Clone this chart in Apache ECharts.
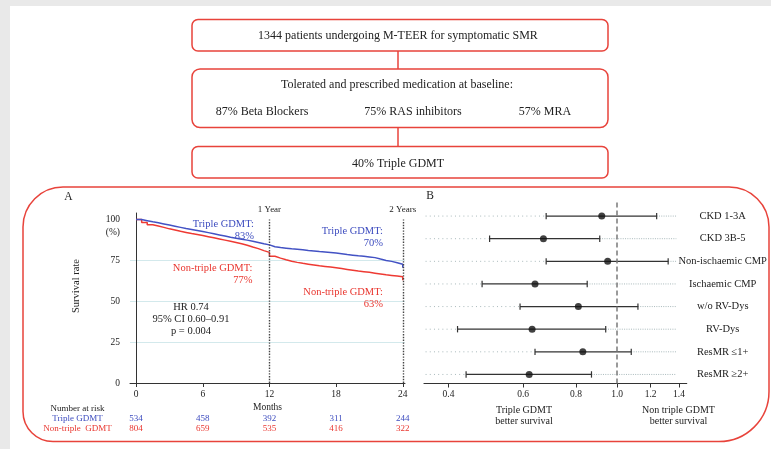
<!DOCTYPE html>
<html><head><meta charset="utf-8">
<script src="https://cdn.jsdelivr.net/npm/echarts@6/dist/echarts.min.js"></script>
<style>html,body{margin:0;padding:0;background:#fff}#c{width:771px;height:449px}</style>
</head><body><div id="c"></div>
<script>
// ---------- Panel A: Kaplan-Meier data ----------
const kmMonths = [0,0.5,1,1.5,2,2.5,3,3.5,4,4.5,5,5.5,6,6.5,7,7.5,8,8.5,9,9.5,10,10.5,11,11.5,12,12.5,13,13.5,14,14.5,15,15.5,16,16.5,17,17.5,18,18.5,19,19.5,20,20.5,21,21.5,22,22.5,23,23.5,24,24];
const survTriple = [100,99.3,98.6,98.0,97.3,96.6,95.9,95.2,94.5,93.9,93.3,92.7,92.0,91.3,90.6,89.9,89.2,88.6,88.0,87.4,86.7,86.0,85.2,84.5,83.4,82.9,82.5,82.1,81.8,81.5,81.1,80.8,80.4,80.1,79.8,79.5,79.1,78.6,78.2,77.8,77.5,77.1,76.7,75.8,75.0,74.4,73.6,72.6,71.3,70.5];
const survNonTriple = [100,98.2,96.8,96.0,95.2,94.3,93.6,92.8,92.1,91.4,90.8,90.2,89.5,88.8,88.1,87.4,86.7,86.0,85.2,84.3,83.2,82.2,81.0,79.9,77.5,76.4,75.4,74.5,73.8,73.2,72.7,72.2,71.7,71.3,70.9,70.5,70.0,69.5,69.0,68.5,68.1,67.7,67.2,66.7,66.2,65.8,65.4,65.0,64.4,62.9];
const monthTicks = [0,6,12,18,24];
const survTicks = [0,25,50,75,100];
const riskTriple = [534,458,392,311,244];
const riskNonTriple = [804,659,535,416,322];
const yearMarks = [12,24];
const yearLabels = ['1 Year','2 Years'];

// ---------- Panel B: forest plot data ----------
const subgroups = ['CKD 1-3A','CKD 3B-5','Non-ischaemic CMP','Ischaemic CMP','w/o RV-Dys','RV-Dys','ResMR \u22641+','ResMR \u22652+'];
const hrValues = [0.92,0.67,0.95,0.64,0.81,0.63,0.83,0.62];
const ciLow   = [0.68,0.50,0.68,0.48,0.59,0.42,0.64,0.44];
const ciHigh  = [1.24,0.91,1.32,0.85,1.12,0.94,1.08,0.87];
const hrTicks = [0.4,0.6,0.8,1.0,1.2,1.4];
const hrRef = 1.0;
const guideRange = [0.353,1.38];

// ---------- Flowchart text ----------
const flowTop = '1344 patients undergoing M-TEER for symptomatic SMR';
const flowMid = 'Tolerated and prescribed medication at baseline:';
const flowMeds = ['87% Beta Blockers','75% RAS inhibitors','57% MRA'];
const flowBottom = '40% Triple GDMT';

const FONT = '"Liberation Serif", "Times New Roman", serif';
const RED = '#e8433b';
const BLUE_LINE = '#4352c4';
const RED_LINE = '#ee3a33';
const BLUE_TXT = '#3d4cbf';
const RED_TXT = '#e9362f';
const INK = '#222';

const chart = echarts.init(document.getElementById('c'), null, {renderer:'canvas'});

function txt(text, x, y, opt) {
  opt = opt || {};
  return {
    type:'text', x:x, y:y, rotation: opt.rotation || 0, z: 10,
    style: {
      text: text, x:0, y:0,
      fill: opt.fill || INK,
      font: (opt.size || 11) + 'px ' + FONT,
      fontSize: opt.size || 11, fontFamily: FONT,
      align: opt.align || 'center', textAlign: opt.align || 'center',
      verticalAlign: 'middle', textVerticalAlign: 'middle',
      lineHeight: opt.lh || 12
    }
  };
}
function box(x, y, w, h, r) {
  return { type:'rect', shape:{x:x,y:y,width:w,height:h,r:r}, z:5,
    style:{ fill:'none', stroke:RED, lineWidth:1.5 } };
}
function vline(x, y1, y2) {
  return { type:'line', shape:{x1:x,y1:y1,x2:x,y2:y2}, z:5, style:{stroke:RED, lineWidth:1.5} };
}

const graphics = [
  {type:'rect', shape:{x:0,y:0,width:771,height:6}, style:{fill:'#e9e9e9'}, z:1},
  {type:'rect', shape:{x:0,y:0,width:10,height:449}, style:{fill:'#e9e9e9'}, z:1},
  box(192, 19.5, 416, 31.5, 6),
  vline(398, 51, 69),
  box(192, 69, 416, 58.5, 8),
  vline(398, 127.5, 146.5),
  box(192, 146.5, 416, 31.5, 6),
  box(23, 187, 746, 254.5, [40,40,50,30]),
  txt(flowTop, 398, 35.5, {size:12}),
  txt(flowMid, 397, 85, {size:12}),
  txt(flowMeds[0], 262, 111.7, {size:12}),
  txt(flowMeds[1], 413, 111.7, {size:12}),
  txt(flowMeds[2], 545, 111.7, {size:12}),
  txt(flowBottom, 398, 163.5, {size:12}),
  txt('A', 68.5, 196.5, {size:11.5}),
  txt('B', 430, 196, {size:11.5}),
  txt('Survival rate', 76, 286, {size:10.5, rotation: Math.PI/2}),
  txt('(%)', 120, 232, {size:9.5, align:'right'}),
  txt('Triple GDMT:\n83%', 254, 230.2, {size:10.5, align:'right', fill:BLUE_TXT}),
  txt('Triple GDMT:\n70%', 383, 237, {size:10.5, align:'right', fill:BLUE_TXT}),
  txt('Non-triple GDMT:\n77%', 252.5, 274.2, {size:10.5, align:'right', fill:RED_TXT}),
  txt('Non-triple GDMT:\n63%', 383, 298, {size:10.5, align:'right', fill:RED_TXT}),
  txt('HR 0.74\n95% CI 0.60\u20130.91\np = 0.004', 191, 319, {size:10.5}),
  txt('Number at risk', 77.5, 408.3, {size:9}),
  txt('Triple GDMT', 77.5, 418.7, {size:9, fill:BLUE_TXT}),
  txt('Non-triple  GDMT', 77.5, 428.3, {size:9, fill:RED_TXT}),
  txt('Triple GDMT\nbetter survival', 524, 415.5, {size:10, lh:11}),
  txt('Non triple GDMT\nbetter survival', 678.5, 415.5, {size:10, lh:11})
];

const axisLabelBase = {fontFamily: FONT, color: INK, fontSize: 9.5};
const xMinA = -0.55, xMaxA = 24.2;

function riskAxis(values, color, offset) {
  return {
    type:'value', gridIndex:0, position:'bottom', offset: offset,
    min:xMinA, max:xMaxA,
    axisLine:{show:false}, axisTick:{show:false}, splitLine:{show:false},
    axisLabel:{ show:true, customValues: monthTicks, margin:2, fontFamily:FONT, fontSize:9, color: color,
      formatter: function(v){ const i = monthTicks.indexOf(Math.round(v)); return i >= 0 ? String(values[i]) : ''; } }
  };
}

const option = {
  animation: false,
  backgroundColor: '#fff',
  textStyle: {fontFamily: FONT},
  graphic: graphics,
  grid: [
    {left:130, top:213, width:275, height:170, outerBoundsMode:'none', containLabel:false},
    {left:424, top:202.5, width:262.7, height:181, outerBoundsMode:'none', containLabel:false}
  ],
  xAxis: [
    { type:'value', gridIndex:0, min:xMinA, max:xMaxA,
      name:'Months', nameLocation:'middle', nameGap:19,
      nameTextStyle:{fontFamily:FONT, fontSize:9.5, color:INK},
      axisLine:{show:true, lineStyle:{color:'#333', width:1}},
      axisTick:{show:true, customValues: monthTicks, length:4, lineStyle:{color:'#333'}},
      axisLabel: Object.assign({customValues: monthTicks, margin:6}, axisLabelBase),
      splitLine:{show:false} },
    riskAxis(riskTriple, BLUE_TXT, 29.5),
    riskAxis(riskNonTriple, RED_TXT, 39),
    { type:'log', gridIndex:1, min:0.35, max:1.46, logBase:10,
      axisLine:{show:true, lineStyle:{color:'#333', width:1.2}},
      axisTick:{show:true, customValues: hrTicks, length:4, lineStyle:{color:'#333'}},
      axisLabel: Object.assign({customValues: hrTicks, margin:6, formatter: v => Number(v).toFixed(1)}, axisLabelBase),
      splitLine:{show:false}, minorTick:{show:false}, minorSplitLine:{show:false} }
  ],
  yAxis: [
    { type:'value', gridIndex:0, min:0, max:104, interval:25,
      axisLine:{show:true, lineStyle:{color:'#333', width:1}},
      axisTick:{show:false},
      axisLabel: Object.assign({customValues: survTicks, margin:10}, axisLabelBase),
      splitLine:{show:true, lineStyle:{width:1, color:['rgba(0,0,0,0)','#d3e9ec','#d3e9ec','#d3e9ec','rgba(0,0,0,0)','rgba(0,0,0,0)']}} },
    { type:'value', gridIndex:1, min:0.4, max:8.4, inverse:true, position:'right',
      axisLine:{show:false}, axisTick:{show:false}, splitLine:{show:false},
      axisLabel:{ customValues:[1,2,3,4,5,6,7,8], margin:36, align:'center', fontFamily:FONT, fontSize:10.5, color:INK,
        formatter: function(v){ return subgroups[Math.round(v)-1] || ''; } } }
  ],
  series: [
    { type:'line', name:'Non-triple GDMT', xAxisIndex:0, yAxisIndex:0, step:'end', showSymbol:false, symbol:'none',
      data: kmMonths.map((m,i)=>[m, survNonTriple[i]]),
      lineStyle:{color:RED_LINE, width:1.5}, itemStyle:{color:RED_LINE}, z:3 },
    { type:'line', name:'Triple GDMT', xAxisIndex:0, yAxisIndex:0, step:'end', showSymbol:false, symbol:'none',
      data: kmMonths.map((m,i)=>[m, survTriple[i]]),
      lineStyle:{color:BLUE_LINE, width:1.5}, itemStyle:{color:BLUE_LINE}, z:4,
      markLine:{ silent:true, symbol:['none','none'], animation:false,
        lineStyle:{type:'dotted', color:'#444', width:1.4},
        label:{show:true, position:'end', formatter:'{b}', color:INK, fontSize:9, distance:5, fontFamily:FONT},
        data: yearMarks.map((m,i)=>[{name:yearLabels[i], coord:[m,0]},{coord:[m,100]}]) } },
    { type:'custom', xAxisIndex:3, yAxisIndex:1,
      encode:{x:[0,1], y:2},
      data: subgroups.map((s,i)=>[ciLow[i], ciHigh[i], i+1]),
      renderItem: function(params, api){
        const row = api.value(2);
        const lo = api.coord([api.value(0), row]);
        const hi = api.coord([api.value(1), row]);
        const g0 = api.coord([guideRange[0], row]);
        const g1 = api.coord([guideRange[1], row]);
        const cap = 3.2;
        return { type:'group', children:[
          {type:'line', shape:{x1:g0[0], y1:g0[1], x2:lo[0], y2:lo[1]}, style:{stroke:'#a9b9bb', lineWidth:1, lineDash:[1,3.2]}},
          {type:'line', shape:{x1:hi[0], y1:hi[1], x2:g1[0], y2:g1[1]}, style:{stroke:'#a9b9bb', lineWidth:1, lineDash:[1,1.3]}},
          {type:'line', shape:{x1:lo[0], y1:lo[1], x2:hi[0], y2:hi[1]}, style:{stroke:'#333', lineWidth:1.3}},
          {type:'line', shape:{x1:lo[0], y1:lo[1]-cap, x2:lo[0], y2:lo[1]+cap}, style:{stroke:'#333', lineWidth:1.2}},
          {type:'line', shape:{x1:hi[0], y1:hi[1]-cap, x2:hi[0], y2:hi[1]+cap}, style:{stroke:'#333', lineWidth:1.2}}
        ]};
      }, z:3 },
    { type:'scatter', xAxisIndex:3, yAxisIndex:1, symbol:'circle', symbolSize:7,
      data: hrValues.map((v,i)=>[v, i+1]),
      itemStyle:{color:'#111'}, z:5,
      markLine:{ silent:true, symbol:['none','none'], animation:false, label:{show:false},
        lineStyle:{type:[5,3], color:'#7a7a7a', width:1.5},
        data:[{xAxis: hrRef}] } }
  ]
};
chart.setOption(option);
</script></body></html>
